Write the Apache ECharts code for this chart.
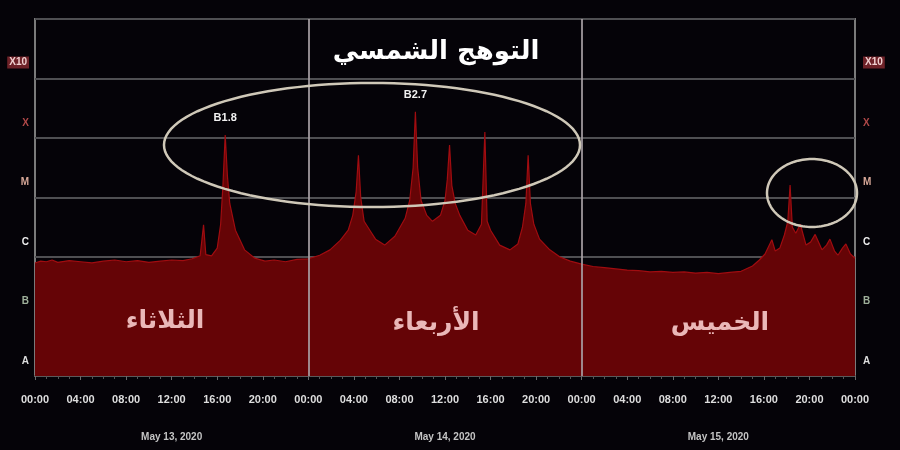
<!DOCTYPE html>
<html>
<head>
<meta charset="utf-8">
<script src="https://cdn.jsdelivr.net/npm/echarts@6/dist/echarts.min.js"></script>
<style>
html,body{margin:0;padding:0;background:#050308;}
#chart{width:900px;height:450px;}
</style>
</head>
<body>
<div id="chart"></div>
<script>
// ---- data (hours since May 13 00:00, flux level in decades above axis floor) ----
const hours = [0,0.5,1,1.5,2,3,4,5,6,7,8,9,10,11,12,13,13.8,14.5,14.8,15.0,15.5,16.0,16.3,16.5,16.7,16.9,17.1,17.6,18.4,19.3,20.2,21,22,23,24,
  25,25.9,26.8,27.5,27.9,28.2,28.4,28.6,28.9,29.4,29.9,30.7,31.6,32.5,32.9,33.2,33.4,33.6,33.9,34.4,34.9,35.6,36.0,36.2,36.4,36.6,36.9,37.3,38.0,38.7,39.2,39.5,39.7,40.0,40.8,41.7,42.4,42.8,43.1,43.3,43.5,43.8,44.3,45.2,46.1,47.0,48.0,
  49,50,51,52,53,54,55,56,57,58,59,60,61,62,63,63.6,64.1,64.7,65.0,65.4,65.8,66.1,66.3,66.5,66.8,67.2,67.7,68.1,68.5,69.1,69.5,69.8,70.2,70.5,70.9,71.2,71.6,72];
const levels = [1.90,1.93,1.92,1.95,1.91,1.94,1.92,1.90,1.93,1.95,1.92,1.94,1.91,1.93,1.95,1.94,1.97,2.02,2.54,2.04,2.02,2.15,2.55,3.2,4.05,3.35,2.9,2.45,2.12,1.98,1.93,1.95,1.92,1.96,1.97,
  2.03,2.12,2.28,2.45,2.7,3.1,3.71,3.0,2.6,2.45,2.3,2.2,2.35,2.65,2.95,3.5,4.44,3.5,2.95,2.7,2.6,2.7,2.95,3.3,3.88,3.2,2.9,2.7,2.45,2.37,2.55,4.1,2.6,2.45,2.2,2.12,2.22,2.5,2.9,3.71,2.9,2.55,2.3,2.12,2.0,1.93,1.88,
  1.84,1.82,1.80,1.78,1.77,1.75,1.76,1.74,1.75,1.73,1.74,1.72,1.74,1.76,1.85,1.95,2.05,2.29,2.1,2.15,2.37,2.6,3.21,2.5,2.4,2.55,2.2,2.25,2.38,2.12,2.2,2.3,2.1,2.03,2.15,2.22,2.05,1.98];

const timeLabels = ['00:00','04:00','08:00','12:00','16:00','20:00'];
const dateLabels = ['May 13, 2020','May 14, 2020','May 15, 2020'];
const yLabels = ['A','B','C','M','X','X10',''];
const yLabelStyle = ['a','b','c','m','x','x10',''];
const dayNames = ['الثلاثاء','الأربعاء','الخميس'];
const dayBoundaries = [24,48];
const peakHours = [16.7,33.4];
const peakLevels = [4.05,4.44];
const peakLabels = ['B1.8','B2.7'];
const titleText = 'التوهج الشمسي';

const chart = echarts.init(document.getElementById('chart'));
const seriesData = hours.map((h,i)=>[h,levels[i]]);

function ellipsePoints(cx,cy,rx,ry){
  const pts=[];
  for(let i=0;i<=120;i++){const t=i/120*Math.PI*2;pts.push([cx+rx*Math.cos(t),cy+ry*Math.sin(t)]);}
  return pts;
}
const yRich = {
  x10:{color:'#f0d0d0',backgroundColor:'#6e2228',padding:[1,2],fontSize:10,fontWeight:'bold'},
  x:{color:'#b04848',fontSize:10,fontWeight:'bold'},
  m:{color:'#d8a898',fontSize:10,fontWeight:'bold'},
  c:{color:'#eeeeee',fontSize:10,fontWeight:'bold'},
  b:{color:'#9fb09a',fontSize:10,fontWeight:'bold'},
  a:{color:'#dddddd',fontSize:10,fontWeight:'bold'}
};
function yFmt(v){const i=Math.round(v);return yLabels[i]?('{'+yLabelStyle[i]+'|'+yLabels[i]+'}'):'';}

const yAxisBase = {
  type:'value',min:0,max:6,interval:1,
  axisLine:{show:false},axisTick:{show:false},
  splitLine:{show:true,lineStyle:{color:'#4f4f52',width:2}},
  axisLabel:{formatter:yFmt,rich:yRich,verticalAlign:'bottom',padding:[0,0,10,0],margin:6,fontFamily:'Liberation Sans'}
};

chart.setOption({
  backgroundColor:'#050308',
  animation:false,
  grid:{left:35,right:45,top:19,bottom:74,show:true,borderColor:'#7a7a7a',borderWidth:2,backgroundColor:'transparent'},
  xAxis:[{
    type:'value',min:0,max:72,interval:4,position:'bottom',
    axisLine:{show:true,lineStyle:{color:'#6a6a6a',width:2}},
    axisTick:{show:true,length:4,lineStyle:{color:'#6a6a6a'}},
    minorTick:{show:true,splitNumber:4,length:3,lineStyle:{color:'#555'}},
    splitLine:{show:false},
    axisLabel:{margin:18,color:'#dedede',fontSize:11,fontWeight:'bold',fontFamily:'Liberation Sans',showMinLabel:true,showMaxLabel:true,
      formatter:v=>timeLabels[(Math.round(v)%24)/4]}
  },{
    type:'value',min:0,max:72,interval:12,position:'bottom',offset:51,
    axisLine:{show:true,lineStyle:{color:'#5a5a5a',width:2}},
    axisTick:{show:false},splitLine:{show:false},
    axisLabel:{margin:5,color:'#c4c4c4',fontSize:10,fontWeight:'bold',fontFamily:'Liberation Sans',
      formatter:v=>{const r=Math.round(v);return r%24===12?dateLabels[(r-12)/24]:'';}}
  }],
  yAxis:[Object.assign({},yAxisBase,{position:'left'}),
         Object.assign({},yAxisBase,{position:'right',splitLine:{show:false},axisLabel:Object.assign({},yAxisBase.axisLabel,{margin:8})})],
  series:[{
    type:'line',xAxisIndex:0,yAxisIndex:0,data:seriesData,showSymbol:false,symbol:'none',
    lineStyle:{color:'#a00c10',width:1.2},
    areaStyle:{color:'#650406',opacity:1},
    z:2,
    markLine:{silent:true,symbol:'none',label:{show:false},
      lineStyle:{color:'#a8a0a4',width:2,type:'solid',opacity:0.85},
      data:dayBoundaries.map(d=>({xAxis:d}))},
    markPoint:{silent:true,symbol:'circle',symbolSize:1,itemStyle:{color:'rgba(0,0,0,0)'},
      label:{show:true,position:'top',distance:11,color:'#f2f2f2',fontSize:11,fontWeight:'bold',fontFamily:'Liberation Sans',formatter:p=>p.name},
      data:peakHours.map((h,i)=>({name:peakLabels[i],coord:[h,peakLevels[i]]}))}
  }],
  graphic:[
    {type:'text',x:436,y:52,z:10,style:{text:titleText,fill:'#ffffff',font:'bold 26px "DejaVu Sans"',textAlign:'center',textVerticalAlign:'middle'}},
    {type:'text',x:165,y:321,z:10,style:{text:dayNames[0],fill:'#eab8b8',font:'bold 25px "DejaVu Sans"',textAlign:'center',textVerticalAlign:'middle'}},
    {type:'text',x:436,y:323,z:10,style:{text:dayNames[1],fill:'#eab8b8',font:'bold 25px "DejaVu Sans"',textAlign:'center',textVerticalAlign:'middle'}},
    {type:'text',x:720,y:323,z:10,style:{text:dayNames[2],fill:'#eab8b8',font:'bold 25px "DejaVu Sans"',textAlign:'center',textVerticalAlign:'middle'}},
    {type:'polyline',z:10,shape:{points:ellipsePoints(372,145,208,62)},style:{fill:'none',stroke:'#cfc8b8',lineWidth:2.5}},
    {type:'polyline',z:10,shape:{points:ellipsePoints(812,193,45,34)},style:{fill:'none',stroke:'#cfc8b8',lineWidth:2.5}}
  ]
});
</script>
</body>
</html>
